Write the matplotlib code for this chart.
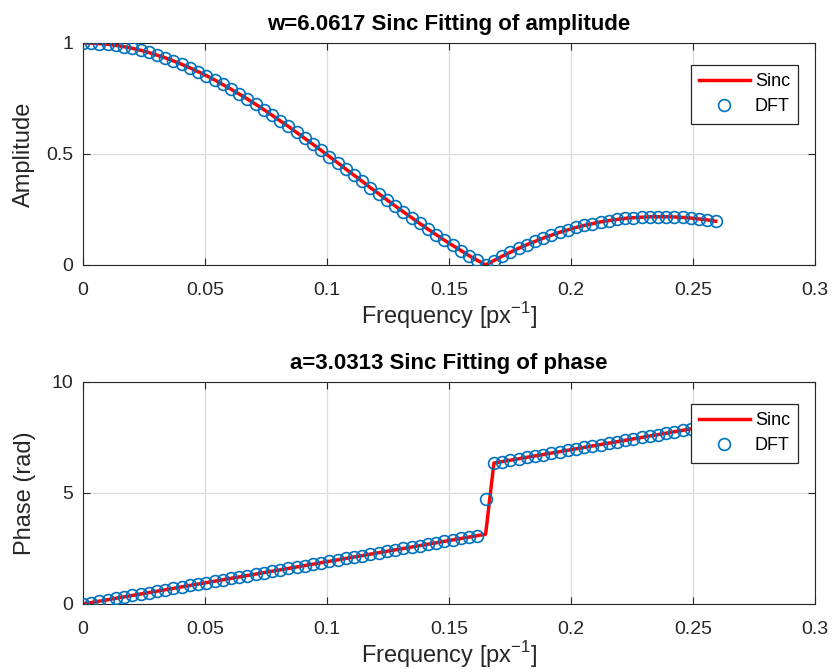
"Sinc fitting of the DFT amplitude and phase of an edge profile."

import matplotlib
matplotlib.use("Agg")
import matplotlib.pyplot as plt

plt.rcParams["font.family"] = ["Liberation Sans", "DejaVu Sans"]
plt.rcParams["mathtext.fontset"] = "custom"
plt.rcParams["mathtext.rm"] = "Liberation Sans"

# Frequency samples [px^-1]
freq = [
    0.0000, 0.0034, 0.0067, 0.0101, 0.0135, 0.0168, 0.0202, 0.0236, 0.0269, 0.0303,
    0.0337, 0.0370, 0.0404, 0.0438, 0.0471, 0.0505, 0.0539, 0.0572, 0.0606, 0.0640,
    0.0673, 0.0707, 0.0741, 0.0774, 0.0808, 0.0842, 0.0875, 0.0909, 0.0943, 0.0976,
    0.1010, 0.1044, 0.1077, 0.1111, 0.1145, 0.1178, 0.1212, 0.1246, 0.1279, 0.1313,
    0.1347, 0.1380, 0.1414, 0.1448, 0.1481, 0.1515, 0.1549, 0.1582, 0.1616, 0.1650,
    0.1684, 0.1717, 0.1751, 0.1785, 0.1818, 0.1852, 0.1886, 0.1919, 0.1953, 0.1987,
    0.2020, 0.2054, 0.2088, 0.2121, 0.2155, 0.2189, 0.2222, 0.2256, 0.2290, 0.2323,
    0.2357, 0.2391, 0.2424, 0.2458, 0.2492, 0.2525, 0.2559, 0.2593,
]

# Amplitude (DFT points sit on the fitted sinc)
amplitude = [
    1.000, 0.999, 0.997, 0.994, 0.989, 0.983, 0.976, 0.967, 0.957, 0.945,
    0.933, 0.919, 0.904, 0.888, 0.871, 0.853, 0.834, 0.813, 0.792, 0.770,
    0.748, 0.724, 0.700, 0.675, 0.649, 0.624, 0.597, 0.570, 0.543, 0.516,
    0.488, 0.460, 0.432, 0.404, 0.376, 0.348, 0.321, 0.293, 0.266, 0.239,
    0.213, 0.187, 0.161, 0.136, 0.112, 0.088, 0.065, 0.042, 0.021, 0.000,
    0.020, 0.039, 0.057, 0.075, 0.091, 0.106, 0.121, 0.134, 0.147, 0.158,
    0.169, 0.178, 0.186, 0.194, 0.200, 0.205, 0.210, 0.213, 0.215, 0.217,
    0.217, 0.217, 0.216, 0.214, 0.211, 0.207, 0.203, 0.197,
]

# Phase of the fitted sinc [rad]
sinc_phase = [
    0.000, 0.064, 0.128, 0.192, 0.257, 0.321, 0.385, 0.449, 0.513, 0.577,
    0.641, 0.705, 0.770, 0.834, 0.898, 0.962, 1.026, 1.090, 1.154, 1.218,
    1.283, 1.347, 1.411, 1.475, 1.539, 1.603, 1.667, 1.732, 1.796, 1.860,
    1.924, 1.988, 2.052, 2.116, 2.180, 2.245, 2.309, 2.373, 2.437, 2.501,
    2.565, 2.629, 2.693, 2.758, 2.822, 2.886, 2.950, 3.014, 3.078, 3.142,
    6.348, 6.412, 6.476, 6.540, 6.604, 6.669, 6.733, 6.797, 6.861, 6.925,
    6.989, 7.053, 7.118, 7.182, 7.246, 7.310, 7.374, 7.438, 7.502, 7.567,
    7.631, 7.695, 7.759, 7.823, 7.887, 7.951, 8.016, 8.080,
]

# Phase measured from the DFT [rad]
dft_phase = [
    0.000, 0.064, 0.128, 0.192, 0.257, 0.321, 0.385, 0.449, 0.513, 0.577,
    0.641, 0.705, 0.770, 0.834, 0.898, 0.962, 1.026, 1.090, 1.154, 1.218,
    1.283, 1.347, 1.411, 1.475, 1.539, 1.603, 1.667, 1.732, 1.796, 1.860,
    1.924, 1.988, 2.052, 2.116, 2.180, 2.245, 2.309, 2.373, 2.437, 2.501,
    2.565, 2.629, 2.693, 2.758, 2.822, 2.886, 2.950, 3.014, 3.078, 4.712,
    6.348, 6.412, 6.476, 6.540, 6.604, 6.669, 6.733, 6.797, 6.861, 6.925,
    6.989, 7.053, 7.118, 7.182, 7.246, 7.310, 7.374, 7.438, 7.502, 7.567,
    7.631, 7.695, 7.759, 7.823, 7.887, 7.951, 8.016, 8.080,
]

w_fit = 6.0617
a_fit = 3.0313

x_ticks = [0, 0.05, 0.1, 0.15, 0.2, 0.25, 0.3]
x_ticklabels = ["0", "0.05", "0.1", "0.15", "0.2", "0.25", "0.3"]

DFT_BLUE = (0.0, 0.447, 0.741)
AXIS_GRAY = (0.15, 0.15, 0.15)


def style_axes(ax, yticks, ylim):
    ax.set_xlim(0, 0.3)
    ax.set_ylim(*ylim)
    ax.set_xticks(x_ticks)
    ax.set_xticklabels(x_ticklabels)
    ax.set_yticks(yticks)
    ax.set_yticklabels([f"{t:g}" for t in yticks])
    ax.grid(True, color=(0.86, 0.86, 0.86), linewidth=0.9)
    ax.set_axisbelow(True)
    ax.tick_params(direction="in", top=True, right=True, length=5,
                   colors=AXIS_GRAY, labelsize=14)
    ax.tick_params(axis="x", pad=12)
    ax.tick_params(axis="y", pad=7)
    for spine in ax.spines.values():
        spine.set_color(AXIS_GRAY)
        spine.set_linewidth(0.8)
    ax.set_xlabel(r"Frequency [px$^{\mathregular{-1}}$]", fontsize=17,
                  color=AXIS_GRAY, labelpad=1)
    leg = ax.legend(loc="upper right", bbox_to_anchor=(0.977, 0.9), fontsize=13,
                    fancybox=False, framealpha=1, edgecolor=AXIS_GRAY,
                    borderaxespad=0, handlelength=2.8, handletextpad=0.3,
                    borderpad=0.45, labelspacing=0.45)
    leg.get_frame().set_linewidth(0.9)
    leg.set_zorder(10)


fig = plt.figure(figsize=(8.36, 6.72), dpi=100)
ax_amp = fig.add_axes([0.0993, 0.6057, 0.8756, 0.3304])
ax_ph = fig.add_axes([0.0993, 0.1012, 0.8756, 0.3304])

ax_amp.plot(freq, amplitude, color="red", linewidth=2.5, label="Sinc", zorder=2)
ax_amp.plot(freq, amplitude, "o", markersize=8.5, markerfacecolor="none",
            markeredgecolor=DFT_BLUE, markeredgewidth=1.2, label="DFT", zorder=3)
style_axes(ax_amp, [0, 0.5, 1], (0, 1))
ax_amp.set_ylabel("Amplitude", fontsize=17, color=AXIS_GRAY, labelpad=8)
ax_amp.set_title(f"w={w_fit:.4f} Sinc Fitting of amplitude", fontsize=16,
                 fontweight="bold", pad=9)

ax_ph.plot(freq, sinc_phase, color="red", linewidth=2.5, label="Sinc", zorder=2)
ax_ph.plot(freq, dft_phase, "o", markersize=8.5, markerfacecolor="none",
           markeredgecolor=DFT_BLUE, markeredgewidth=1.2, label="DFT", zorder=3)
style_axes(ax_ph, [0, 5, 10], (0, 10))
ax_ph.set_ylabel("Phase (rad)", fontsize=17, color=AXIS_GRAY, labelpad=11)
ax_ph.set_title(f"a={a_fit:.4f} Sinc Fitting of phase", fontsize=16,
                fontweight="bold", pad=9)

fig.savefig("out.png", dpi=100)
